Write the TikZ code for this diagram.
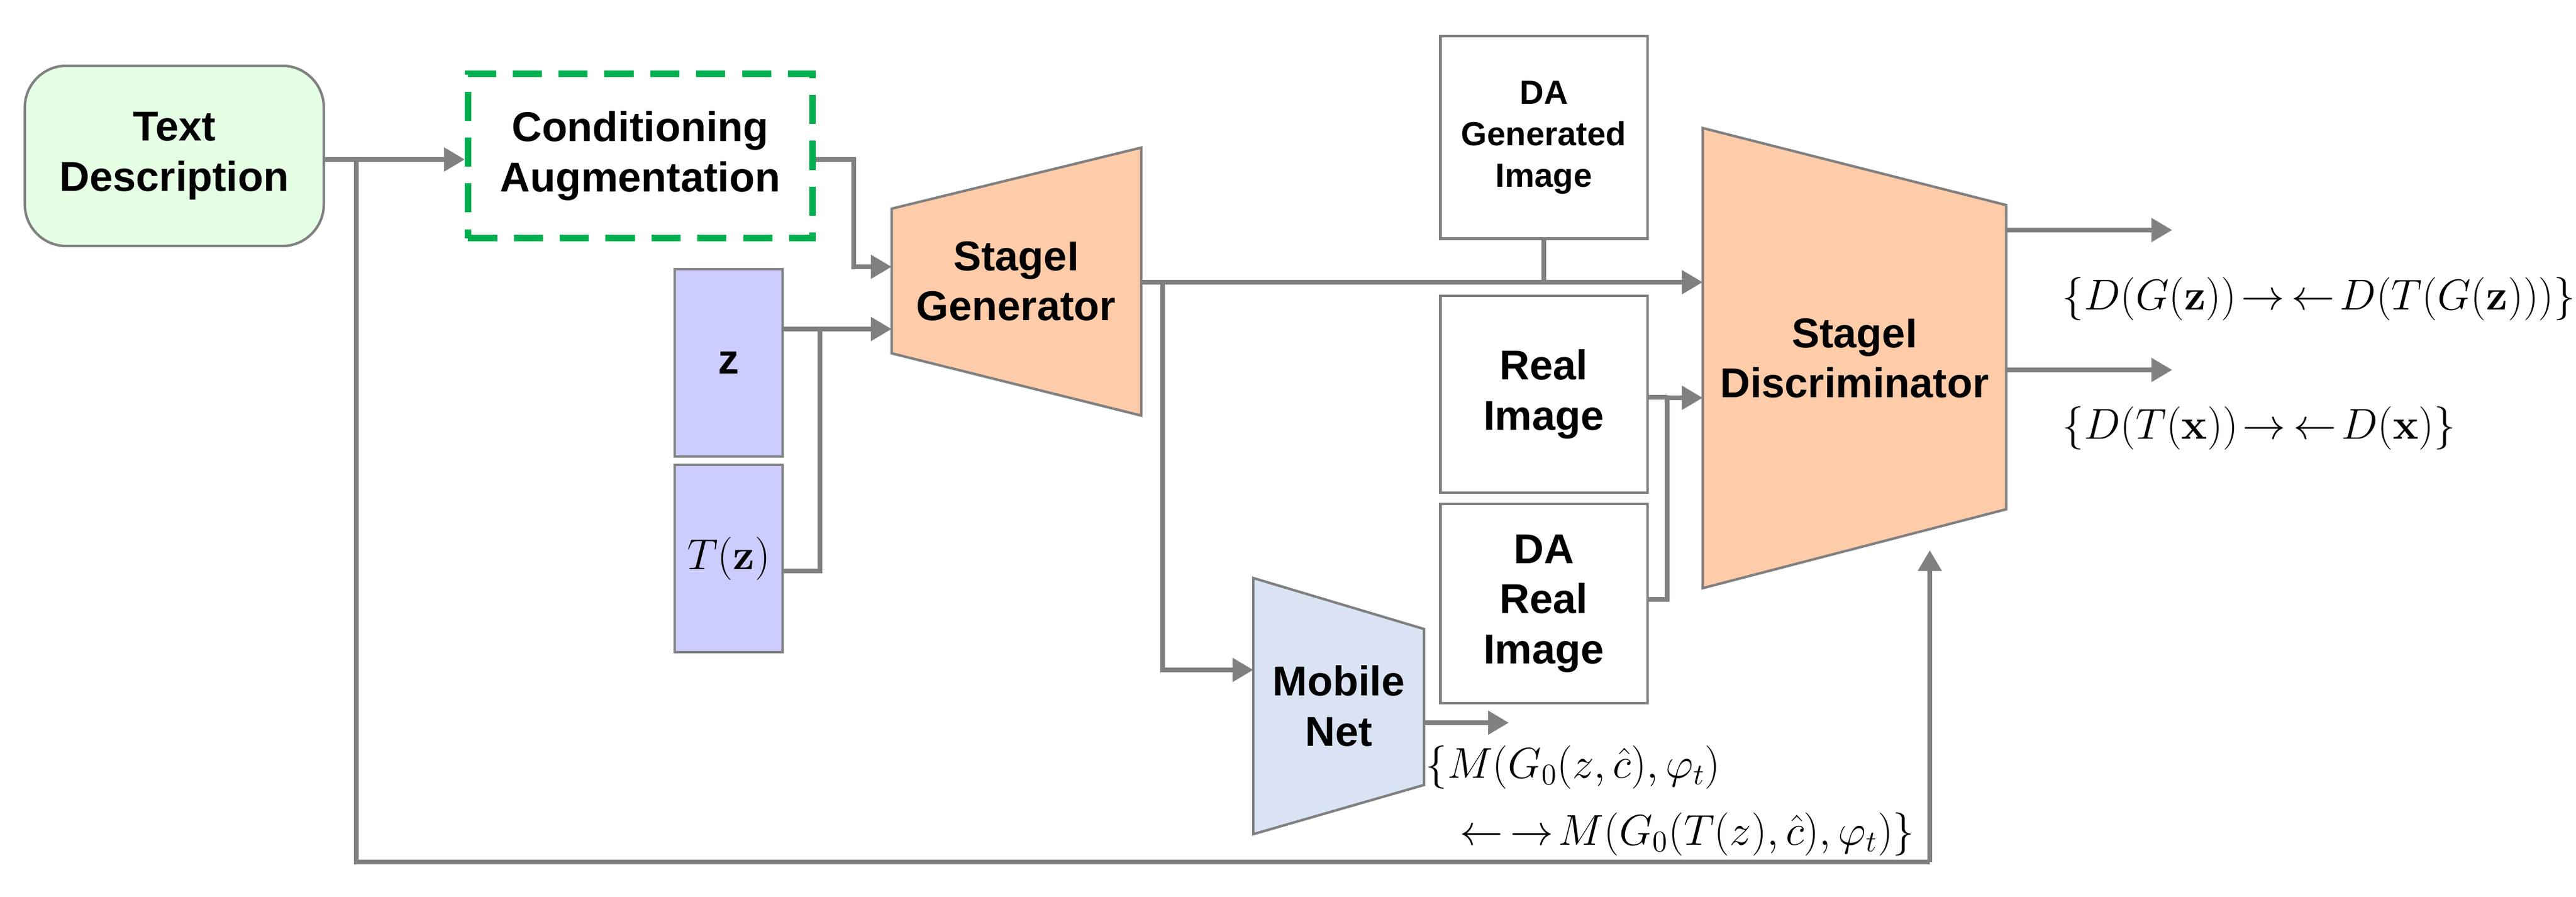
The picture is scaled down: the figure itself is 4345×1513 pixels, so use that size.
\documentclass[tikz,border=0pt]{standalone}
\usepackage{amsmath}
\usepackage[no-math]{fontspec}
\setmainfont{Liberation Sans}
\usetikzlibrary{arrows.meta}
\begin{document}
\begin{tikzpicture}[x=0.01cm,y=-0.01cm,
  conn/.style={draw=black!50,line width=2.4pt,-{Triangle[length=10pt,width=11pt]}},
  line/.style={draw=black!50,line width=2.4pt},
  lbl/.style={font=\fontsize{20}{24}\selectfont\bfseries,align=center},
  box/.style={draw=black!50,line width=1.2pt,fill=white,inner sep=0pt},
  mth/.style={font=\fontsize{21}{25}\selectfont,inner sep=0pt}]
\useasboundingbox (0,0) rectangle (4345,1513);
% boxes
\node[box,fill=green!10!white,rounded corners=20pt,minimum width=5.04cm,minimum height=3.04cm,lbl] (td) at (294,263) {Text\\Description};
\node[draw={rgb,255:red,0;green,176;blue,80},dashed,dash pattern=on 14pt off 8pt,line width=3pt,minimum width=5.81cm,minimum height=2.77cm,lbl] (ca) at (1080,263) {Conditioning\\Augmentation};
\node[box,fill={rgb,255:red,204;green,204;blue,255},minimum width=1.82cm,minimum height=3.16cm,font=\fontsize{20}{24}\selectfont\bfseries] (z) at (1229,612) {z};
\node[box,fill={rgb,255:red,204;green,204;blue,255},minimum width=1.82cm,minimum height=3.16cm] (tz) at (1229,942) {\fontsize{22}{26}\selectfont$T(\mathbf{z})$};
\node[box,minimum width=3.49cm,minimum height=3.41cm,lbl,font=\fontsize{16}{20}\selectfont\bfseries] (dag) at (2604,232) {DA\\Generated\\Image};
\node[box,minimum width=3.49cm,minimum height=3.32cm,lbl] (real) at (2604,665) {Real\\Image};
\node[box,minimum width=3.49cm,minimum height=3.36cm,lbl] (dareal) at (2604,1018) {DA\\Real\\Image};
% trapezoids
\filldraw[fill={rgb,255:red,255;green,204;blue,170},draw=black!50,line width=1.2pt] (1504,352) -- (1925,249) -- (1925,701) -- (1504,596) -- cycle;
\node[lbl] (gen) at (1714,474) {StageI\\Generator};
\filldraw[fill={rgb,255:red,255;green,204;blue,170},draw=black!50,line width=1.2pt] (2872,216) -- (3384,346) -- (3384,859) -- (2872,992) -- cycle;
\node[lbl] (disc) at (3128,604) {StageI\\Discriminator};
\filldraw[fill={rgb,255:red,218;green,227;blue,243},draw=black!50,line width=1.2pt] (2114,975) -- (2402,1061) -- (2402,1324) -- (2114,1407) -- cycle;
\node[lbl] (mob) at (2258,1191) {Mobile\\Net};
\coordinate (disctop) at (2872,476);
\coordinate (discmid) at (2872,671);
\coordinate (discbot) at (3255,928);
% connectors
\draw[conn] (td.east |- 0,269) -- (ca.west |- 0,269);
\draw[line] (601,269) -- (601,1454) -- (3255,1454);
\draw[conn] (3255,1454) -- (discbot);
\draw[conn] (ca.east |- 0,269) -- (1440,269) -- (1440,450) -- (1504,450);
\draw[line] (z.east |- 0,555) -- (1383,555);
\draw[line] (tz.east |- 0,963) -- (1383,963) -- (1383,555);
\draw[conn] (1383,555) -- (1504,555);
\draw[conn] (1925,476) -- (disctop);
\draw[line] (dag.south) -- (2604,476);
\draw[conn] (1961,476) -- (1961,1130) -- (2114,1130);
\draw[line] (real.east |- 0,670) -- (2812,670);
\draw[line] (dareal.east |- 0,1011) -- (2812,1011) -- (2812,670);
\draw[conn] (2812,671) -- (discmid);
\draw[conn] (3384,388) -- (3664,388);
\draw[conn] (3384,624) -- (3664,624);
\draw[conn] (2402,1219) -- (2545,1219);
% formulas
\node[mth,anchor=west] (f1) at (3478,504) {$\{D(G(\mathbf{z}))\!\rightarrow\,\leftarrow\!D(T(G(\mathbf{z})))\}$};
\node[mth,anchor=west] (f2) at (3478,722) {$\{D(T(\mathbf{x}))\!\rightarrow\,\leftarrow\!D(\mathbf{x})\}$};
\node[mth,anchor=west] (f3) at (2404,1294) {$\{M(G_0(z,\hat{c}),\varphi_t)$};
\node[mth,anchor=east] (f4) at (3230,1407) {$\leftarrow\,\rightarrow\!M(G_0(T(z),\hat{c}),\varphi_t)\}$};
\end{tikzpicture}
\end{document}
